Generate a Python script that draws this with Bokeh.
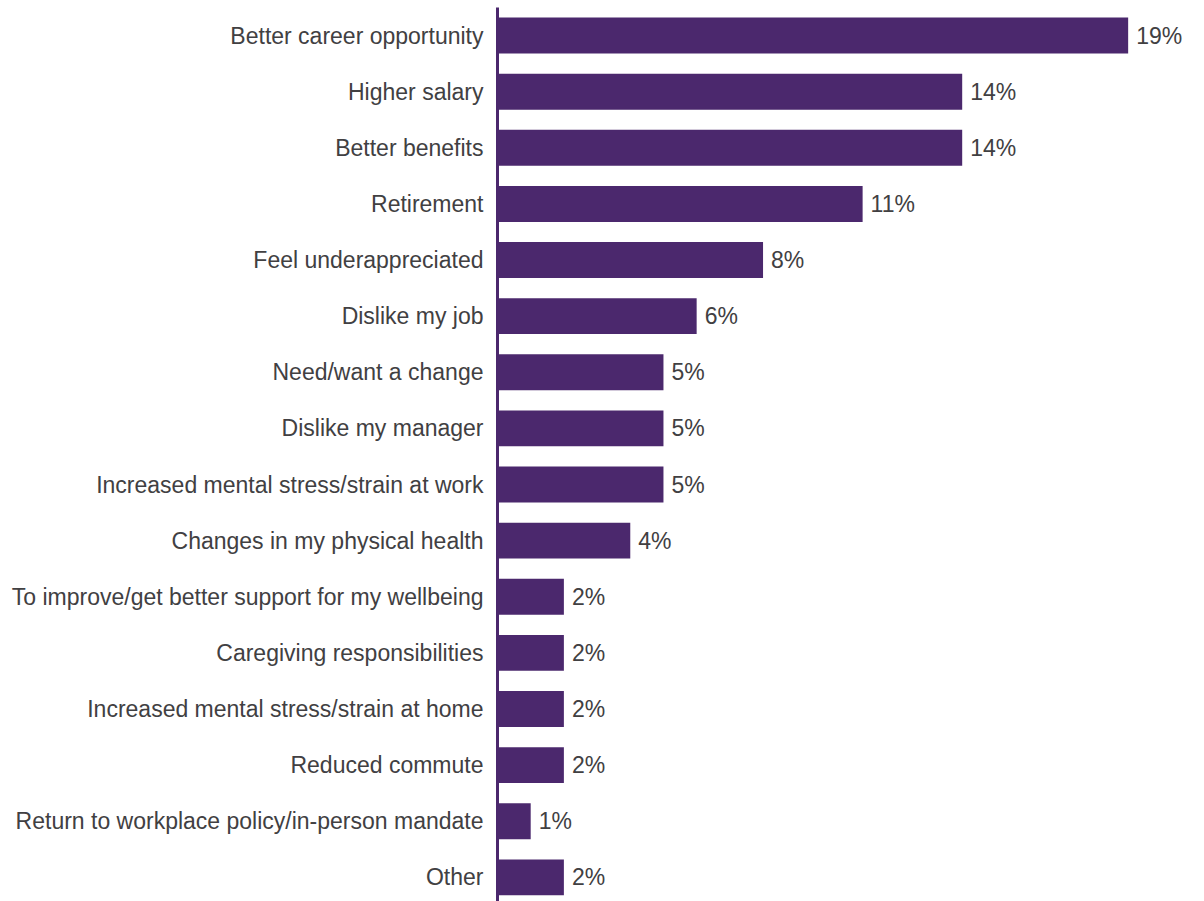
from bokeh.plotting import figure
from bokeh.models import ColumnDataSource, Range1d, FixedTicker, LabelSet
from bokeh.core.properties import value
from bokeh.embed import file_html
from bokeh.resources import INLINE

categories = [
    "Better career opportunity",
    "Higher salary",
    "Better benefits",
    "Retirement",
    "Feel underappreciated",
    "Dislike my job",
    "Need/want a change",
    "Dislike my manager",
    "Increased mental stress/strain at work",
    "Changes in my physical health",
    "To improve/get better support for my wellbeing",
    "Caregiving responsibilities",
    "Increased mental stress/strain at home",
    "Reduced commute",
    "Return to workplace policy/in-person mandate",
    "Other",
]
values = [19, 14, 14, 11, 8, 6, 5, 5, 5, 4, 2, 2, 2, 2, 1, 2]

PURPLE = "#4b286d"
TEXT = "#414042"
FONT = "Liberation Sans"
FSIZE = "23px"

pos = list(range(len(categories)))
src = ColumnDataSource(dict(
    y=pos, v=values, lab=[f"{v}%" for v in values],
))

p = figure(width=1204, height=901, output_backend="svg", toolbar_location=None,
           x_range=Range1d(0, 21.3), y_range=Range1d(15.43, -0.5),
           min_border_left=497, min_border_right=0, min_border_top=7, min_border_bottom=0,
           outline_line_color=None)
p.hbar(y="y", right="v", left=0, height=0.64, source=src, color=PURPLE, line_color=None)
p.add_layout(LabelSet(x="v", y="y", text="lab", source=src, x_offset=8, y_offset=0,
                      text_baseline="middle", text_font=value(FONT),
                      text_font_size=FSIZE, text_color=TEXT))

p.xaxis.visible = False
p.xgrid.visible = False
p.ygrid.visible = False
ya = p.yaxis[0]
ya.ticker = FixedTicker(ticks=pos)
ya.major_label_overrides = {i: c for i, c in enumerate(categories)}
ya.major_tick_line_color = None
ya.minor_tick_line_color = None
ya.axis_line_color = PURPLE
ya.axis_line_width = 3
ya.major_label_standoff = 8
ya.major_label_text_font = FONT
ya.major_label_text_font_size = FSIZE
ya.major_label_text_color = TEXT

open("out.html", "w").write(file_html(p, INLINE))
